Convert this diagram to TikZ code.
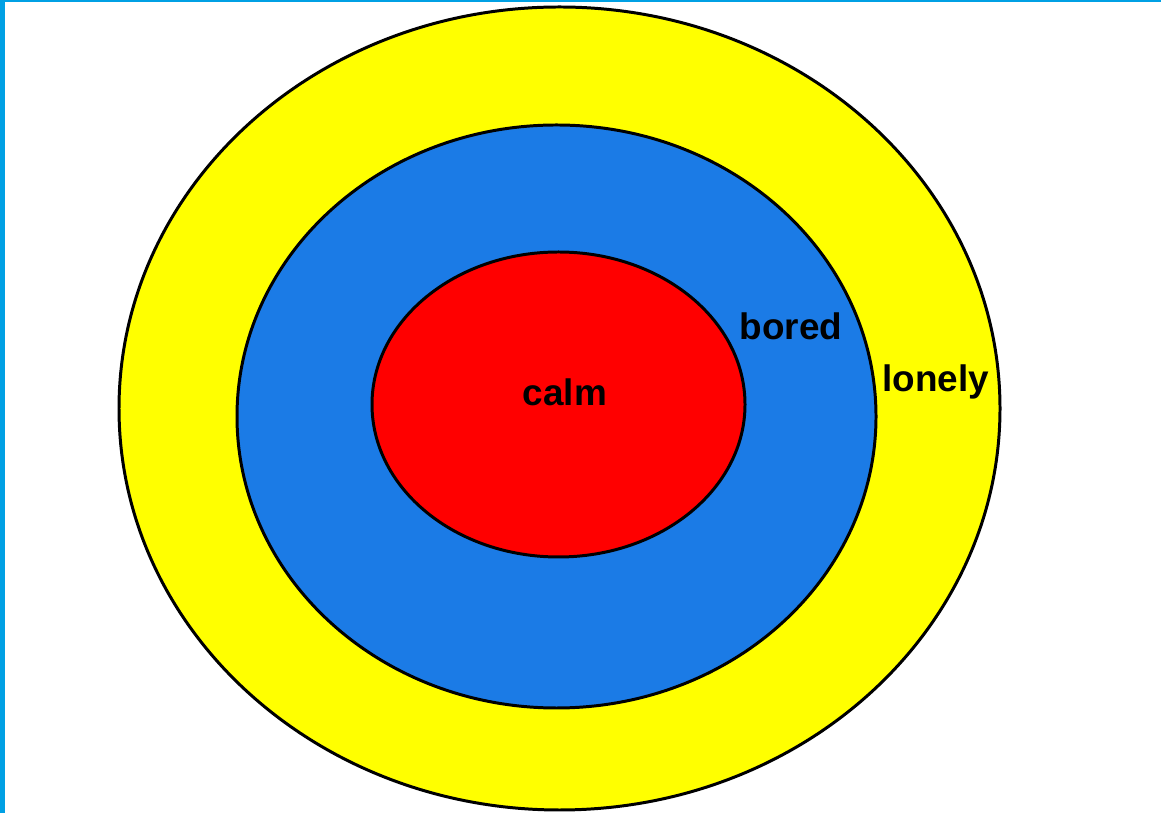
\documentclass[tikz,border=0pt]{standalone}
\usepackage{fontspec}
\setmainfont{Liberation Sans}
\usepackage{xcolor}
\usepackage{tikz}
\usetikzlibrary{positioning}

\definecolor{ringyellow}{HTML}{FFFF00}
\definecolor{ringblue}{HTML}{1B7BE6}
\definecolor{ringred}{HTML}{FF0000}
\definecolor{edgeblue}{HTML}{00A0E4}

\begin{document}
\begin{tikzpicture}[font=\fontsize{21}{25}\selectfont\bfseries]
    \useasboundingbox (0,0) rectangle (23.22,16.26);
    \fill[white] (0,0) rectangle (23.22,16.26);
    \fill[edgeblue] (0,0) rectangle (0.1,16.26);
    \fill[edgeblue] (0,16.22) rectangle (23.22,16.26);

    \draw[line width=1.7pt, fill=ringyellow] (11.19,8.09) ellipse [x radius=8.81, y radius=8.03];
    \draw[line width=1.7pt, fill=ringblue] (11.13,7.93) ellipse [x radius=6.39, y radius=5.83];
    \draw[line width=1.7pt, fill=ringred] (11.17,8.17) ellipse [x radius=3.73, y radius=3.05];

    \node[anchor=base, inner sep=0pt] (calm) at (11.30,8.14) {calm};
    \node[anchor=base, inner sep=0pt] (bored) at (15.82,9.46) {bored};
    \node[anchor=base, inner sep=0pt] (lonely) at (18.71,8.42) {lonely};
\end{tikzpicture}
\end{document}
